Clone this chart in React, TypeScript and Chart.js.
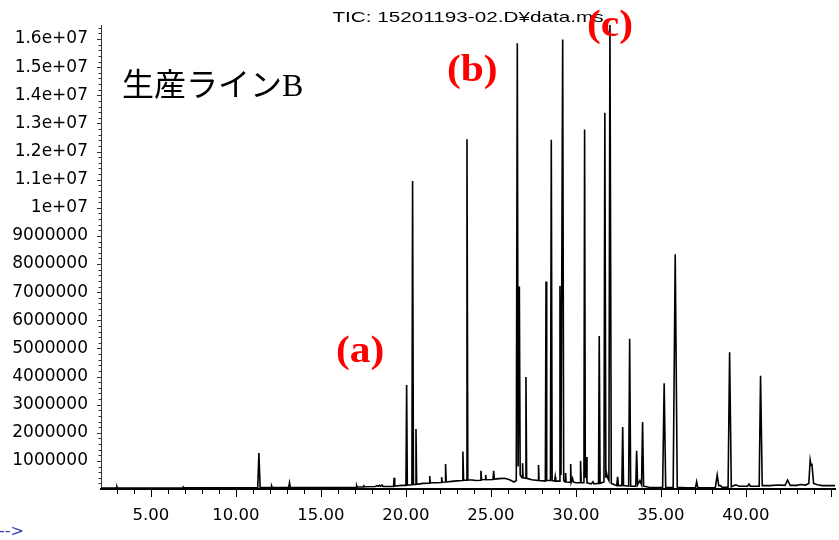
import { useEffect, useRef } from "react";
import { Chart, registerables } from "chart.js";

Chart.register(...registerables);

// Retention time (min) and TIC abundance
const retentionTimes = [
  2.06, 2.98, 3.0, 3.03, 6.88, 6.9, 6.93, 11.28, 11.35, 11.42, 12.08, 12.1, 12.13,
  13.1, 13.15, 13.2, 16.5, 17.08, 17.1, 17.13, 17.48, 17.5, 17.53, 18.2, 18.3, 18.4,
  18.45, 18.5, 18.6, 18.65, 19.27, 19.3, 19.34, 19.6, 19.8, 20.0, 20.04, 20.08, 20.35,
  20.39, 20.44, 20.56, 20.59, 20.63, 21.0, 21.37, 21.4, 21.43, 21.8, 22.07, 22.1, 22.13,
  22.3, 22.33, 22.37, 22.7, 23.0, 23.32, 23.35, 23.39, 23.55, 23.59, 23.64, 23.9, 24.1,
  24.38, 24.41, 24.45, 24.66, 24.69, 24.72, 25.12, 25.16, 25.2, 25.5, 25.8, 26.1, 26.35,
  26.49, 26.55, 26.6, 26.67, 26.72, 26.83, 26.86, 26.89, 27.02, 27.06, 27.1, 27.4, 27.77,
  27.8, 27.83, 28.2, 28.24, 28.28, 28.5, 28.55, 28.6, 28.75, 28.78, 28.81, 29.02, 29.06,
  29.12, 29.22, 29.28, 29.36, 29.39, 29.42, 29.66, 29.69, 29.72, 29.8, 29.84, 30.0, 30.24,
  30.27, 30.31, 30.47, 30.51, 30.55, 30.6, 30.65, 30.9, 31.0, 31.06, 31.33, 31.37, 31.42,
  31.65, 31.7, 31.76, 31.8, 31.86, 31.94, 32.0, 32.08, 32.4, 32.45, 32.5, 32.7, 32.75,
  32.8, 33.1, 33.16, 33.22, 33.52, 33.57, 33.63, 33.76, 33.86, 33.92, 33.98, 34.3, 35.1,
  35.19, 35.28, 35.72, 35.84, 35.96, 36.5, 37.03, 37.1, 37.17, 38.2, 38.31, 38.4, 38.5,
  38.6, 38.95, 39.04, 39.14, 39.4, 39.6, 40.1, 40.18, 40.26, 40.78, 40.86, 40.96, 41.4,
  41.9, 42.3, 42.45, 42.6, 43.0, 43.2, 43.5, 43.7, 43.78, 43.83, 43.88, 43.98, 44.2,
  44.5, 45.24,
];

const ticAbundance = [
  30000, 30000, 80000, 30000, 40000, 70000, 40000, 40000, 1280000, 50000, 50000, 100000, 50000,
  50000, 220000, 50000, 50000, 60000, 120000, 70000, 70000, 150000, 80000, 90000, 120000, 100000,
  130000, 100000, 140000, 90000, 90000, 400000, 100000, 120000, 130000, 130000, 3700000, 140000, 150000,
  10950000, 160000, 160000, 2130000, 170000, 200000, 210000, 460000, 220000, 220000, 230000, 420000, 240000,
  250000, 890000, 250000, 270000, 290000, 300000, 1330000, 310000, 310000, 12440000, 320000, 320000, 300000,
  310000, 650000, 330000, 340000, 500000, 330000, 340000, 650000, 350000, 370000, 380000, 330000, 250000,
  300000, 15850000, 800000, 7200000, 500000, 400000, 920000, 400000, 380000, 3980000, 380000, 330000, 300000,
  850000, 300000, 280000, 7380000, 300000, 300000, 12420000, 300000, 280000, 430000, 280000, 280000, 7220000,
  500000, 15980000, 300000, 250000, 570000, 250000, 240000, 890000, 240000, 380000, 250000, 220000, 220000,
  1000000, 220000, 220000, 12780000, 400000, 1140000, 220000, 180000, 260000, 180000, 200000, 5440000, 200000,
  250000, 13380000, 400000, 570000, 400000, 300000, 16600000, 200000, 120000, 430000, 120000, 120000, 2200000,
  120000, 100000, 5340000, 100000, 100000, 1360000, 150000, 300000, 150000, 2380000, 100000, 60000, 50000,
  3760000, 50000, 60000, 8350000, 60000, 40000, 40000, 260000, 40000, 50000, 500000, 120000, 120000,
  60000, 60000, 4860000, 80000, 150000, 100000, 100000, 180000, 100000, 100000, 4030000, 120000, 120000,
  140000, 130000, 320000, 130000, 130000, 160000, 140000, 200000, 1030000, 850000, 900000, 200000, 150000,
  120000, 120000,
];

const xTickValues = [5, 10, 15, 20, 25, 30, 35, 40];
const yTickValues = [
  1000000, 2000000, 3000000, 4000000, 5000000, 6000000, 7000000, 8000000,
  9000000, 10000000, 11000000, 12000000, 13000000, 14000000, 15000000, 16000000,
];

const titleText = "TIC: 15201193-02.D¥data.ms";
const lineLabel = "生産ラインB";
const peakLabels = [
  { text: "(a)", t: 17.3, v: 4850000 },
  { text: "(b)", t: 23.9, v: 14850000 },
  { text: "(c)", t: 32.0, v: 16450000 },
];

const X_MIN = 2.06;
const X_MAX = 45.24;
const Y_MAX = 16500000;

function drawScaledText(ctx: CanvasRenderingContext2D, text: string, cx: number, cy: number, sx: number) {
  ctx.save();
  ctx.translate(cx, cy);
  ctx.scale(sx, 1);
  ctx.fillText(text, 0, 0);
  ctx.restore();
}

const overlayPlugin = {
  id: "overlay",
  afterDraw(chart: any) {
    const { ctx, scales, chartArea } = chart;
    const x = scales.x;
    const y = scales.y;
    ctx.save();
    ctx.strokeStyle = "#000";
    ctx.lineWidth = 1;
    // x ticks: minor every minute, major every 5
    ctx.beginPath();
    for (let t = 3; t <= 45; t++) {
      const px = Math.round(x.getPixelForValue(t)) + 0.5;
      const len = t % 5 === 0 ? 8 : 5;
      ctx.moveTo(px, chartArea.bottom);
      ctx.lineTo(px, chartArea.bottom + len);
    }
    ctx.stroke();
    // y ticks: minor every 200000
    ctx.strokeStyle = "#333";
    ctx.beginPath();
    for (let i = 1; i <= 82; i++) {
      const v = i * 200000;
      const py = Math.round(y.getPixelForValue(v)) + 0.5;
      const len = i % 5 === 0 ? 4 : 2.5;
      ctx.moveTo(chartArea.left - len, py);
      ctx.lineTo(chartArea.left, py);
    }
    ctx.stroke();

    // title
    ctx.fillStyle = "#000";
    ctx.textAlign = "center";
    ctx.textBaseline = "middle";
    ctx.font = '15px "Liberation Sans", Arial, sans-serif';
    drawScaledText(ctx, titleText, (chartArea.left + chartArea.right) / 2, 18, 1.38);

    // line label
    ctx.textAlign = "left";
    ctx.font = '32px "Liberation Serif", "Noto Sans CJK JP", serif';
    ctx.fillText(lineLabel, 122, 88);

    // peak labels
    ctx.fillStyle = "#ff0000";
    ctx.textAlign = "center";
    ctx.font = 'bold 37px "Liberation Serif", serif';
    for (const p of peakLabels) {
      drawScaledText(ctx, p.text, x.getPixelForValue(p.t), y.getPixelForValue(p.v), 1.12);
    }
    ctx.restore();
  },
};

export default function App() {
  const canvasRef = useRef<HTMLCanvasElement | null>(null);

  useEffect(() => {
    if (!canvasRef.current) return;
    const points = retentionTimes.map((t, i) => ({ x: t, y: ticAbundance[i] }));
    const chart = new Chart(canvasRef.current, {
      type: "line",
      data: {
        datasets: [
          {
            label: "TIC",
            data: points,
            borderColor: "#000",
            borderWidth: 1.6,
            pointRadius: 0,
            tension: 0,
            fill: false,
          },
        ],
      },
      options: {
        animation: false,
        responsive: false,
        maintainAspectRatio: false,
        layout: { padding: { top: 25, right: 4, left: 0, bottom: 0 } },
        plugins: {
          legend: { display: false },
          title: { display: false },
          tooltip: { enabled: false },
        },
        scales: {
          x: {
            type: "linear",
            min: X_MIN,
            max: X_MAX,
            grid: { display: false },
            border: { display: true, color: "#000", width: 2 },
            afterBuildTicks: (scale: any) => {
              scale.ticks = xTickValues.map((v) => ({ value: v }));
            },
            afterFit: (scale: any) => {
              scale.height = 51;
            },
            ticks: {
              autoSkip: false,
              maxRotation: 0,
              padding: 9,
              color: "#000",
              font: { family: '"DejaVu Sans", sans-serif', size: 16.5 },
              callback: (v: any) => Number(v).toFixed(2),
            },
          },
          y: {
            type: "linear",
            min: 0,
            max: Y_MAX,
            grid: { display: false },
            border: { display: true, color: "#333", width: 1 },
            afterBuildTicks: (scale: any) => {
              scale.ticks = yTickValues.map((v) => ({ value: v }));
            },
            afterFit: (scale: any) => {
              scale.width = 101;
            },
            ticks: {
              autoSkip: false,
              padding: 5,
              color: "#000",
              font: { family: '"DejaVu Sans", sans-serif', size: 17 },
              callback: (v: any) => {
                const n = Number(v);
                if (n >= 10000000) return String(n / 10000000) + "e+07";
                return String(n);
              },
            },
          },
        },
      },
      plugins: [overlayPlugin],
    });
    return () => chart.destroy();
  }, []);

  return (
    <div style={{ position: "fixed", left: 0, top: 0, width: 839, height: 540, background: "#fff" }}>
      <canvas ref={canvasRef} width={839} height={540} style={{ width: 839, height: 540, display: "block" }} />
      <span
        style={{
          position: "absolute",
          left: -1,
          top: 521,
          color: "#3c3cb4",
          font: '16px "DejaVu Sans", sans-serif',
          lineHeight: "20px",
          whiteSpace: "nowrap",
        }}
      >
        --&gt;
      </span>
    </div>
  );
}
